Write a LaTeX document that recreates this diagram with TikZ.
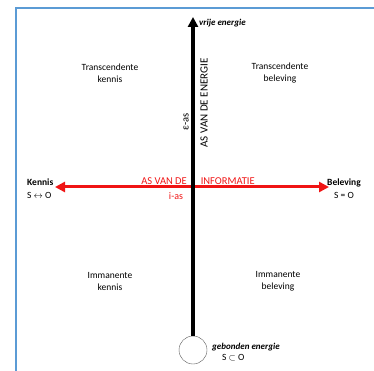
\documentclass[tikz,border=0pt]{standalone}
\usepackage{fontspec}
\setmainfont{Carlito}
\usepackage{xcolor}
\usetikzlibrary{arrows.meta,positioning}
\definecolor{frameblue}{HTML}{5B9BD5}
\definecolor{infored}{HTML}{F01414}
\tikzstyle{quadrant} = [align=center, inner sep=0pt, font=\fontsize{9.5}{12}\selectfont]
\tikzstyle{pole} = [align=center, inner sep=0pt, font=\fontsize{9.5}{13}\selectfont]
\tikzstyle{energy} = [inner sep=0pt, font=\fontsize{9}{11}\selectfont\bfseries\itshape]
\tikzstyle{axislabel} = [inner sep=0pt, font=\fontsize{11}{13}\selectfont]

\begin{document}
\begin{tikzpicture}[x=1pt, y=-1pt, >={Triangle[length=10pt,width=10pt]}]
  \useasboundingbox (0,0) rectangle (374,371);
  % frame
  \draw[frameblue, line width=1.5pt] (16,371) -- (16,8) -- (374,8);
  % quadrants
  \node[quadrant] (tk) at (110,73) {Transcendente\\kennis};
  \node[quadrant] (tb) at (280,73) {Transcendente\\beleving};
  \node[quadrant] (ik) at (110,281) {Immanente\\kennis};
  \node[quadrant] (ib) at (278,281) {Immanente\\beleving};
  % information axis
  \coordinate (kleft) at (55,187);
  \coordinate (kright) at (329,187);
  \draw[<->, infored, line width=3pt] (kleft) -- (kright);
  \node[pole, align=left, anchor=west] (kennis) at (27,189) {\textbf{Kennis}\\S $\leftrightarrow$ O};
  \node[pole] (beleving) at (344,189) {\textbf{Beleving}\\S = O};
  \node[inner sep=0pt, text=infored, font=\fontsize{10.5}{12}\selectfont] (info) at (198,181) {AS VAN DE\hspace{14pt}INFORMATIE};
  \node[inner sep=0pt, text=infored, font=\fontsize{10}{12}\selectfont] (ias) at (176,196) {i-as};
  % energy axis
  \node[circle, draw=black!65, fill=white, minimum size=28pt, inner sep=0pt] (bound) at (193,350) {};
  \coordinate (free) at (193,17);
  \draw[->, line width=3.5pt] (bound) -- (free);
  \node[energy, anchor=west] (vrij) at (199,23) {vrije energie};
  \node[energy, anchor=west] (gebonden) at (212,347) {gebonden energie};
  \node[inner sep=0pt, anchor=west, font=\fontsize{9.5}{12}\selectfont] (sco) at (222,358) {S $\subset$ O};
  \node[axislabel, rotate=90] (energie) at (204,103) {AS VAN DE ENERGIE};
  \node[inner sep=0pt, rotate=90, font=\fontsize{10.5}{12}\selectfont] (eas) at (186,122) {ε-as};
\end{tikzpicture}
\end{document}
